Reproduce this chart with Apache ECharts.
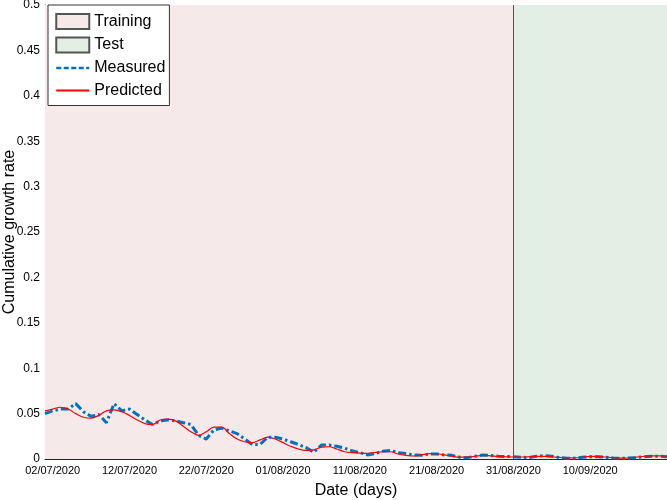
<!DOCTYPE html>
<html>
<head>
<meta charset="utf-8">
<script src="https://cdn.jsdelivr.net/npm/echarts@6/dist/echarts.min.js"></script>
<style>html,body{margin:0;padding:0;background:#fff}#c{width:667px;height:500px}</style>
</head>
<body>
<div id="c"></div>
<script>
// Day index 0 = 01/07/2020
const measured = [0.050,0.053,0.055,0.055,0.061,0.052,0.047,0.049,0.040,0.061,
0.053,0.055,0.049,0.043,0.038,0.042,0.043,0.042,0.040,0.038,
0.026,0.022,0.032,0.034,0.031,0.028,0.022,0.016,0.016,0.024,
0.024,0.022,0.019,0.016,0.0125,0.0074,0.0154,0.0154,0.014,0.012,
0.009,0.007,0.0045,0.006,0.0085,0.0095,0.007,0.006,0.0045,0.004,
0.0055,0.0055,0.0045,0.004,0.002,0.0015,0.003,0.0044,0.004,0.003,
0.0028,0.0025,0.002,0.0015,0.003,0.0036,0.003,0.0015,0.0008,0.001,
0.0018,0.0025,0.0025,0.002,0.0012,0.0008,0.001,0.0015,0.0025,0.003,
0.003,0.0025];
const predicted = [0.053,0.055,0.057,0.055,0.050,0.046,0.045,0.048,0.053,0.054,
0.052,0.048,0.043,0.039,0.038,0.043,0.044,0.042,0.036,0.030,
0.026,0.030,0.035,0.035,0.028,0.022,0.019,0.018,0.021,0.024,
0.022,0.018,0.014,0.011,0.0095,0.010,0.013,0.0135,0.011,0.008,
0.007,0.0065,0.0063,0.0072,0.008,0.008,0.0055,0.004,0.0033,0.0045,
0.006,0.0058,0.0045,0.003,0.002,0.002,0.003,0.004,0.0035,0.0028,
0.0025,0.0022,0.0022,0.0025,0.003,0.003,0.0025,0.0018,0.0012,0.0012,
0.002,0.0028,0.0028,0.0022,0.0015,0.001,0.0012,0.002,0.003,0.0035,
0.0035,0.003];
const xTickDays = [1,11,21,31,41,51,61,71];
const xTickLabels = ['02/07/2020','12/07/2020','22/07/2020','01/08/2020','11/08/2020','21/08/2020','31/08/2020','10/09/2020'];
const trainEnd = 61;   // 31/08/2020
const lastDay = 81;    // 20/09/2020

const FONT = "'Liberation Sans', Arial, Helvetica, sans-serif";
const pink = '#F5E9E9', green = '#E3EEE5';

const chart = echarts.init(document.getElementById('c'), null, {renderer:'canvas'});
chart.setOption({
  animation:false,
  textStyle:{fontFamily:FONT},
  grid:{left:45, right:0, top:5, bottom:41, containLabel:false, outerBoundsMode:'none'},
  legend:{
    orient:'vertical', left:48, top:5,
    padding:[8,4,7,7], itemWidth:33, itemHeight:15, itemGap:6.5,
    backgroundColor:'#fff', borderColor:'#333', borderWidth:1,
    textStyle:{fontSize:16, color:'#000', fontFamily:FONT},
    data:[{name:'Training',icon:'rect'},{name:'Test',icon:'rect'},
          {name:'Measured', itemStyle:{opacity:0}, lineStyle:{type:[5,2.5], width:2.5}},
          {name:'Predicted', itemStyle:{opacity:0}}]
  },
  xAxis:{
    type:'value', min:0, max:lastDay,
    name:'Date (days)', nameLocation:'middle', nameGap:24, nameMoveOverlap:false,
    nameTextStyle:{fontSize:16, color:'#000', fontFamily:FONT},
    axisLine:{show:true, lineStyle:{color:'#262626', width:1}},
    axisTick:{show:true, inside:true, length:5, customValues:xTickDays, lineStyle:{color:'#262626'}},
    axisLabel:{customValues:xTickDays, fontSize:11, color:'#000', margin:6,
      formatter:function(v){ const i = xTickDays.indexOf(Math.round(v)); return i>=0 ? xTickLabels[i] : ''; }},
    splitLine:{show:false}
  },
  yAxis:{
    type:'value', min:0, max:0.5, interval:0.05,
    name:'Cumulative growth rate', nameLocation:'middle', nameGap:27, nameMoveOverlap:false,
    nameTextStyle:{fontSize:16, color:'#000', fontFamily:FONT},
    axisLine:{show:true, lineStyle:{color:'#262626', width:1}},
    axisTick:{show:true, inside:true, length:5, lineStyle:{color:'#262626'}},
    axisLabel:{fontSize:12, color:'#000', margin:5},
    splitLine:{show:false}
  },
  series:[
    {name:'Training', type:'bar', data:[], itemStyle:{color:pink, borderColor:'#555', borderWidth:1}},
    {name:'Test', type:'bar', data:[], itemStyle:{color:green, borderColor:'#555', borderWidth:1}},
    {name:'Measured', type:'line', symbol:'none', showSymbol:false, z:3,
     data:measured.map((v,i)=>[i,v]),
     lineStyle:{color:'#0072BD', width:3, type:[8,3,2.5,3], cap:'butt'},
     itemStyle:{color:'#0072BD'},
     markArea:{silent:true, z:1, data:[
       [{xAxis:0, itemStyle:{color:pink, borderWidth:0}},{xAxis:trainEnd}],
       [{xAxis:trainEnd, itemStyle:{color:green, borderWidth:0}},{xAxis:lastDay}]
     ]},
     markLine:{silent:true, symbol:'none', z:2, label:{show:false},
       lineStyle:{color:'#555', width:1, type:'solid'},
       data:[{xAxis:trainEnd}]}},
    {name:'Predicted', type:'line', symbol:'none', showSymbol:false, smooth:0.35, z:4,
     data:predicted.map((v,i)=>[i,v]),
     lineStyle:{color:'#FF0000', width:1.2},
     itemStyle:{color:'#FF0000'}}
  ]
});
</script>
</body>
</html>
